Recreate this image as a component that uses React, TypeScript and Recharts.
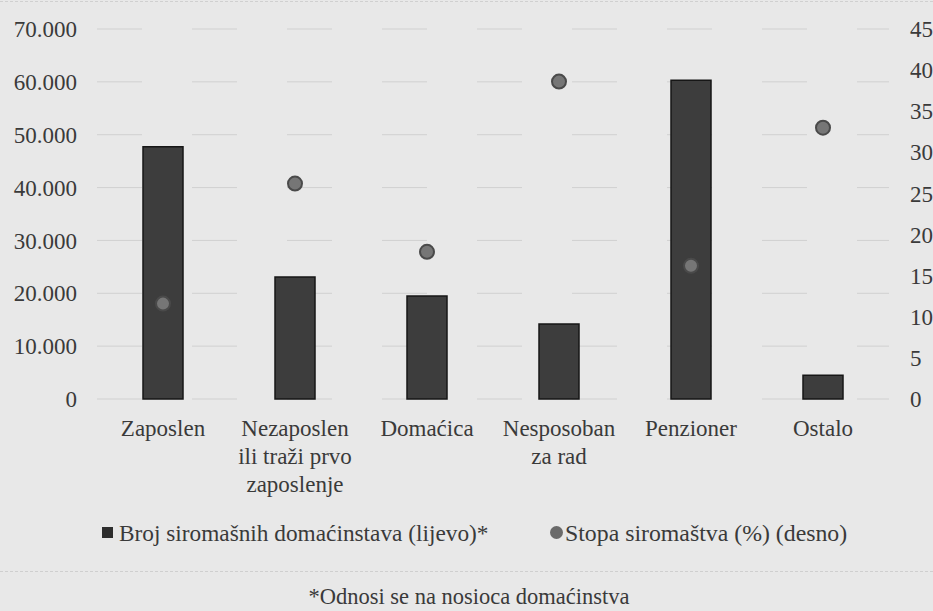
import React from 'react';
import { Bar, CartesianGrid, ComposedChart, Line, XAxis, YAxis } from 'recharts';

const categories = [
  'Zaposlen',
  'Nezaposlen\nili traži prvo\nzaposlenje',
  'Domaćica',
  'Nesposoban\nza rad',
  'Penzioner',
  'Ostalo',
];
const brojDomacinstava = [47700, 23100, 19500, 14200, 60300, 4500];
const stopaSiromastva = [11.6, 26.2, 17.9, 38.6, 16.2, 33.0];
const leftTicks = [0, 10000, 20000, 30000, 40000, 50000, 60000, 70000];
const rightTicks = [0, 5, 10, 15, 20, 25, 30, 35, 40, 45];

const data = categories.map((name, i) => ({
  name,
  broj: brojDomacinstava[i],
  stopa: stopaSiromastva[i],
}));

const FONT = 'Liberation Serif';
const TEXT = '#3a3a3a';
const BG = '#e8e8e8';

const formatThousands = (v: number) => v.toLocaleString('de-DE');

function CategoryTick({ x, y, payload }: { x?: number; y?: number; payload?: { value: string } }) {
  const lines = String(payload?.value ?? '').split('\n');
  return (
    <text x={x} y={y} textAnchor="middle" fontFamily={FONT} fontSize={23} fill={TEXT}>
      {lines.map((line, i) => (
        <tspan key={i} x={x} dy={i === 0 ? '0.68em' : 28}>
          {line}
        </tspan>
      ))}
    </text>
  );
}

function Dot({ cx, cy }: { cx?: number; cy?: number }) {
  if (cx == null || cy == null) return null;
  return <circle cx={cx} cy={cy} r={7} fill="#767676" stroke="#4a4a4a" strokeWidth={2} />;
}

export default function App() {
  return (
    <div
      style={{
        position: 'fixed',
        left: 0,
        top: 0,
        width: 933,
        height: 611,
        background: BG,
        fontFamily: FONT,
        color: TEXT,
        overflow: 'hidden',
      }}
    >
      <div style={{ position: 'absolute', left: 0, top: 1, width: 933, borderTop: '1px dashed #d0d0d0' }} />
      <ComposedChart
        width={933}
        height={500}
        data={data}
        margin={{ top: 29, right: 0, left: 0, bottom: 1 }}
        barSize={40}
      >
        <CartesianGrid
          vertical={false}
          yAxisId="left"
          stroke="#d0d0d0"
          strokeDasharray="45 50"
        />
        <XAxis
          dataKey="name"
          interval={0}
          axisLine={false}
          tickLine={false}
          tickSize={0}
          tickMargin={21}
          height={100}
          tick={<CategoryTick />}
        />
        <YAxis
          yAxisId="left"
          domain={[0, 70000]}
          ticks={leftTicks}
          width={97}
          axisLine={false}
          tickLine={false}
          tickSize={0}
          tickMargin={20}
          tickFormatter={formatThousands}
          tick={{ fontFamily: FONT, fontSize: 23, fill: TEXT }}
        />
        <YAxis
          yAxisId="right"
          orientation="right"
          domain={[0, 45]}
          ticks={rightTicks}
          width={44}
          axisLine={false}
          tickLine={false}
          tickSize={0}
          tickMargin={21}
          tick={{ fontFamily: FONT, fontSize: 23, fill: TEXT, textAnchor: 'start' }}
        />
        <Bar
          yAxisId="left"
          dataKey="broj"
          fill="#3d3d3d"
          stroke="#161616"
          strokeWidth={1.5}
          isAnimationActive={false}
        />
        <Line
          yAxisId="right"
          dataKey="stopa"
          stroke="none"
          dot={<Dot />}
          activeDot={false}
          isAnimationActive={false}
        />
      </ComposedChart>

      {/* legend */}
      <div style={{ position: 'absolute', left: 102, top: 527, width: 11, height: 11, background: '#2e2e2e' }} />
      <div style={{ position: 'absolute', left: 119, top: 518, fontSize: 23.3, lineHeight: '30px', whiteSpace: 'nowrap' }}>
        Broj siromašnih domaćinstava (lijevo)*
      </div>
      <div
        style={{
          position: 'absolute',
          left: 550,
          top: 526,
          width: 13,
          height: 13,
          borderRadius: '50%',
          background: '#6a6a6a',
        }}
      />
      <div style={{ position: 'absolute', left: 565, top: 518, fontSize: 23.8, lineHeight: '30px', whiteSpace: 'nowrap' }}>
        Stopa siromaštva (%) (desno)
      </div>

      <div style={{ position: 'absolute', left: 0, top: 571, width: 933, borderTop: '1px dashed #cfcfcf' }} />
      <div
        style={{
          position: 'absolute',
          left: 0,
          top: 584,
          width: 938,
          textAlign: 'center',
          fontSize: 22.5,
          lineHeight: '26px',
          whiteSpace: 'nowrap',
        }}
      >
        *Odnosi se na nosioca domaćinstva
      </div>
    </div>
  );
}
